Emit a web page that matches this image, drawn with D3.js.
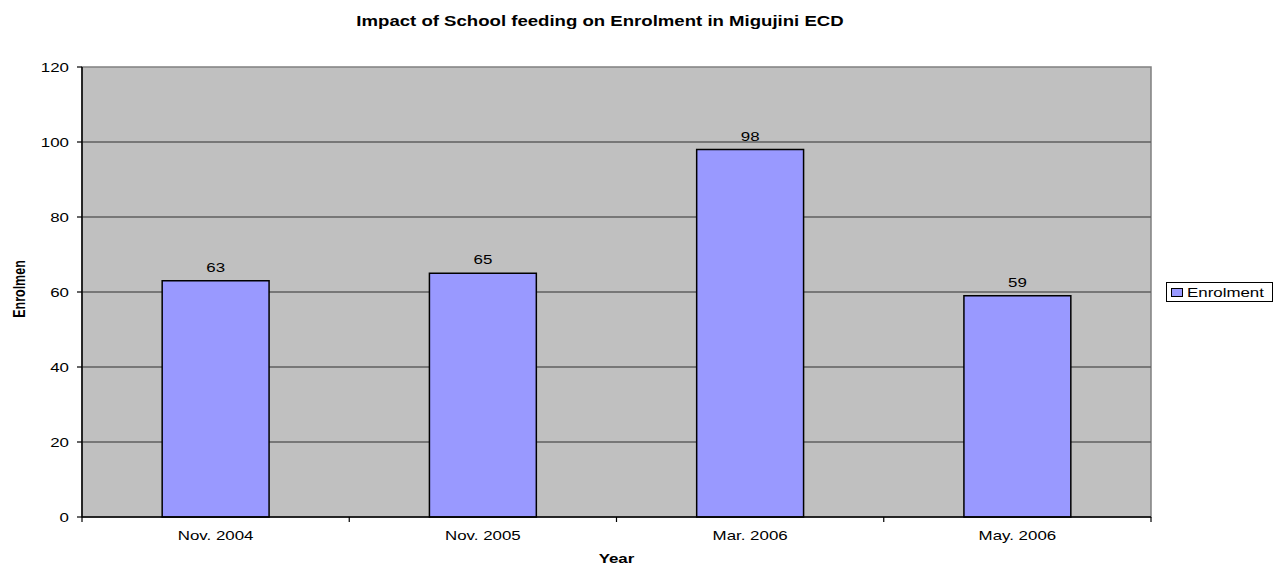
<!DOCTYPE html>
<html><head><meta charset="utf-8">
<script src="https://cdn.jsdelivr.net/npm/d3@7"></script>
<style>body{margin:0;background:#fff}svg{display:block}text{font-family:"Liberation Sans",Arial,sans-serif;fill:#000}</style>
</head><body><svg id="c" width="1274" height="565"></svg>
<script>
const categories = ["Nov. 2004", "Nov. 2005", "Mar. 2006", "May. 2006"];
const enrolment = [63, 65, 98, 59];
const yTicks = [0, 20, 40, 60, 80, 100, 120];
const seriesName = "Enrolment";
const title = "Impact of School feeding on Enrolment in Migujini ECD";
const xTitle = "Year";
const yTitle = "Enrolmen";

const SX = 1.3;
const svg = d3.select("#c");
const L = 82, R = 1151, T = 67, B = 517;
const x = d3.scaleBand().domain(categories).range([L, R]).paddingInner(0).paddingOuter(0);
const y = d3.scaleLinear().domain([0, 120]).range([B, T]);

// plot background
svg.append("rect").attr("x", L).attr("y", T).attr("width", R - L).attr("height", B - T)
  .attr("fill", "#c0c0c0").attr("stroke", "#808080").attr("stroke-width", 1.5);

// gridlines
svg.append("g").selectAll("line").data(yTicks.filter(d => d > 0 && d < 120)).join("line")
  .attr("x1", L).attr("x2", R).attr("y1", d => y(d)).attr("y2", d => y(d))
  .attr("stroke", "#5f5f5f").attr("stroke-width", 1.3);

// bars
const bw = x.bandwidth() * 0.4;
svg.append("g").selectAll("rect").data(categories).join("rect")
  .attr("x", d => x(d) + (x.bandwidth() - bw) / 2)
  .attr("y", (d, i) => y(enrolment[i]))
  .attr("width", bw)
  .attr("height", (d, i) => B - y(enrolment[i]))
  .attr("fill", "#9999ff").attr("stroke", "#000").attr("stroke-width", 1.5);

function stext(g, xx, yy, txt, opts = {}) {
  const t = g.append("text")
    .attr("transform", `translate(${xx},${yy}) scale(${SX},1)` + (opts.rot ? " rotate(-90)" : ""))
    .attr("text-anchor", opts.anchor || "middle")
    .style("font-size", (opts.size || 13) + "px")
    .style("font-weight", opts.bold ? "bold" : "normal")
    .text(txt);
  return t;
}

// data labels
categories.forEach((c, i) => {
  stext(svg, x(c) + x.bandwidth() / 2, y(enrolment[i]) - 9, enrolment[i]);
});

// y axis
const yAxis = svg.append("g");
yAxis.append("line").attr("x1", L).attr("x2", L).attr("y1", T).attr("y2", B).attr("stroke", "#000").attr("stroke-width", 1.5);
yTicks.forEach(t => {
  yAxis.append("line").attr("x1", L - 5).attr("x2", L).attr("y1", y(t)).attr("y2", y(t)).attr("stroke", "#000").attr("stroke-width", 1.2);
  stext(yAxis, 69, y(t) + 4.5, t, { anchor: "end" });
});

// x axis
const xAxis = svg.append("g");
xAxis.append("line").attr("x1", L).attr("x2", R).attr("y1", B).attr("y2", B).attr("stroke", "#000").attr("stroke-width", 1.5);
const bounds = categories.map(c => x(c)).concat([R]);
bounds.forEach(b => {
  xAxis.append("line").attr("x1", b).attr("x2", b).attr("y1", B).attr("y2", B + 5).attr("stroke", "#000").attr("stroke-width", 1.2);
});
categories.forEach(c => stext(xAxis, x(c) + x.bandwidth() / 2, 540, c));

// titles
stext(svg, 600, 26, title, { bold: true, size: 14.3 });
stext(svg, (L + R) / 2, 563, xTitle, { bold: true, size: 13 });
stext(svg, 25, 289, yTitle, { bold: true, size: 12.5, rot: true });

// legend
const lg = svg.append("g");
lg.append("rect").attr("x", 1166.5).attr("y", 282.5).attr("width", 106).attr("height", 19)
  .attr("fill", "#fff").attr("stroke", "#000").attr("stroke-width", 1);
lg.append("rect").attr("x", 1171.5).attr("y", 288.5).attr("width", 11).attr("height", 8)
  .attr("fill", "#9999ff").attr("stroke", "#000").attr("stroke-width", 1);
stext(lg, 1187, 297, seriesName, { anchor: "start" });
</script></body></html>
